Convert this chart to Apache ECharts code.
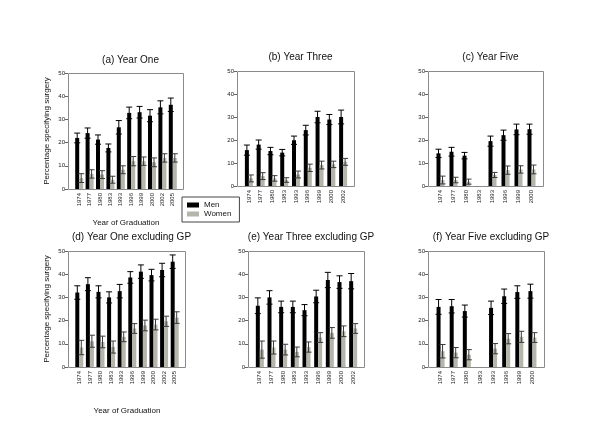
<!DOCTYPE html>
<html>
<head>
<meta charset="utf-8">
<script src="https://cdn.jsdelivr.net/npm/echarts@6/dist/echarts.min.js"></script>
<style>
  html, body { margin: 0; padding: 0; background: #fff; }
  #chart { width: 600px; height: 425px; }
</style>
</head>
<body>
<div id="chart"></div>
<script>
// categories
const yearsA = ['1974', '1977', '1980', '1983', '1993', '1996', '1999', '2000', '2002', '2005'];
const yearsB = ['1974', '1977', '1980', '1983', '1993', '1996', '1999', '2000', '2002'];
const yearsC = ['1974', '1977', '1980', '1983', '1993', '1996', '1999', '2000'];
const yTicks = [0, 10, 20, 30, 40, 50];

// (a) Year One
const aMen = [22.0, 24.1, 21.3, 17.7, 26.6, 32.8, 33.1, 31.6, 35.2, 36.3];
const aMenErr = [2.1, 2.2, 2.0, 1.7, 2.9, 2.5, 2.5, 2.6, 2.8, 2.9];
const aWomen = [4.7, 6.5, 6.2, 4.0, 8.3, 12.0, 12.0, 11.5, 13.4, 13.4];
const aWomenErr = [1.9, 1.8, 1.7, 1.5, 1.7, 2.0, 1.8, 1.9, 1.8, 1.8];
// (b) Year Three
const bMen = [15.6, 18.0, 15.2, 14.5, 19.9, 24.3, 30.0, 28.9, 30.0];
const bMenErr = [2.2, 2.0, 1.6, 1.4, 1.8, 2.1, 2.5, 2.2, 3.0];
const bWomen = [3.3, 4.3, 3.3, 2.6, 5.0, 7.9, 9.1, 9.4, 10.5];
const bWomenErr = [1.5, 1.5, 1.2, 1.0, 1.5, 1.6, 1.7, 1.4, 1.5];
// (c) Year Five
const cMen = [14.2, 14.9, 13.2, null, 19.5, 22.1, 24.6, 24.7];
const cMenErr = [1.8, 1.9, 1.4, null, 2.2, 2.2, 2.3, 2.2];
const cWomen = [2.6, 2.6, 1.9, null, 4.8, 6.9, 7.2, 7.2];
const cWomenErr = [1.7, 1.2, 1.1, null, 1.1, 1.8, 1.6, 1.9];
// (d) Year One excluding GP
const dMen = [32.1, 35.7, 32.4, 30.0, 32.7, 38.6, 41.1, 39.6, 41.8, 45.4];
const dMenErr = [2.9, 2.8, 2.6, 2.4, 2.9, 2.5, 2.9, 2.5, 2.9, 2.9];
const dWomen = [8.4, 11.1, 10.8, 8.6, 13.0, 16.6, 17.9, 18.3, 19.7, 21.3];
const dWomenErr = [3.1, 2.6, 2.5, 2.6, 2.1, 2.1, 2.3, 2.3, 2.2, 2.5];
// (e) Year Three excluding GP
const eMen = [26.4, 30.0, 25.9, 25.9, 24.5, 30.4, 37.5, 36.6, 37.0];
const eMenErr = [3.4, 2.9, 2.5, 2.5, 2.4, 2.7, 3.3, 2.7, 3.3];
const eWomen = [7.5, 8.4, 7.5, 6.5, 8.6, 12.7, 14.7, 15.4, 16.6];
const eWomenErr = [3.7, 2.8, 2.3, 2.1, 2.2, 2.1, 2.3, 2.3, 2.1];
// (f) Year Five excluding GP
const fMen = [25.9, 26.2, 24.1, null, 25.5, 30.5, 32.3, 32.7];
const fMenErr = [3.2, 2.9, 2.6, null, 2.9, 3.1, 2.7, 3.0];
const fWomen = [6.8, 6.2, 5.3, null, 7.9, 12.2, 13.0, 12.7];
const fWomenErr = [2.9, 2.2, 2.2, null, 2.2, 2.2, 2.4, 2.1];

const panels = [
    { title: '(a) Year One', cats: yearsA, men: aMen, menErr: aMenErr, women: aWomen, womenErr: aWomenErr,
      x: 68, y: 73, w: 115, h: 116, titleTop: 50, names: true, xNameGap: 30 },
    { title: '(b) Year Three', cats: yearsB, men: bMen, menErr: bMenErr, women: bWomen, womenErr: bWomenErr,
      x: 237, y: 71, w: 117, h: 115, titleTop: 47 },
    { title: '(c) Year Five', cats: yearsC, men: cMen, menErr: cMenErr, women: cWomen, womenErr: cWomenErr,
      x: 428, y: 71, w: 115, h: 115, titleTop: 47 },
    { title: '(d) Year One excluding GP', cats: yearsA, men: dMen, menErr: dMenErr, women: dWomen, womenErr: dWomenErr,
      x: 68, y: 251, w: 117, h: 116, titleTop: 227, names: true, xNameGap: 40 },
    { title: '(e) Year Three excluding GP', cats: yearsB, men: eMen, menErr: eMenErr, women: eWomen, womenErr: eWomenErr,
      x: 248, y: 251, w: 116, h: 116, titleTop: 227 },
    { title: '(f) Year Five excluding GP', cats: yearsC, men: fMen, menErr: fMenErr, women: fWomen, womenErr: fWomenErr,
      x: 428, y: 251, w: 116, h: 116, titleTop: 227 }
];

const FONT = 'Liberation Sans, Arial, sans-serif';
const WOMEN_COLOR = '#b5b5ab';
const PAD_L = 6, PAD_R = 5;
const BAR_W = 4;

function errorSeries(idx, values, errs, dx, color) {
    return {
        type: 'custom',
        xAxisIndex: idx,
        yAxisIndex: idx,
        z: 5,
        silent: true,
        data: values.map((v, i) => [i, v, errs[i]]),
        renderItem(params, api) {
            const v = api.value(1), e = api.value(2);
            if (isNaN(v) || isNaN(e)) return null;
            const top = api.coord([api.value(0), v + e]);
            const bot = api.coord([api.value(0), v - e]);
            const x = top[0] + dx;
            const st = { stroke: color, lineWidth: 1 };
            return {
                type: 'group',
                children: [
                    { type: 'line', shape: { x1: x, y1: top[1], x2: x, y2: bot[1] }, style: st },
                    { type: 'line', shape: { x1: x - 3, y1: top[1], x2: x + 3, y2: top[1] }, style: st },
                    { type: 'line', shape: { x1: x - 3, y1: bot[1], x2: x + 3, y2: bot[1] }, style: st }
                ]
            };
        }
    };
}

const grid = [], xAxis = [], yAxis = [], series = [], title = [], graphic = [];

panels.forEach((p, i) => {
    grid.push({ left: p.x + PAD_L, top: p.y, width: p.w - PAD_L - PAD_R, height: p.h });
    title.push({
        text: p.title, left: p.x + p.w / 2, top: p.titleTop, textAlign: 'center',
        textStyle: { fontFamily: FONT, fontSize: 10, fontWeight: 'normal', color: '#111' }
    });
    graphic.push({
        type: 'rect', silent: true, z: 1,
        shape: { x: p.x + 0.5, y: p.y + 0.5, width: p.w, height: p.h },
        style: { fill: null, stroke: '#8a8a8a', lineWidth: 1 }
    });
    xAxis.push({
        type: 'category', gridIndex: i, data: p.cats,
        axisLine: { show: false },
        axisTick: { show: false },
        axisLabel: { rotate: 90, fontSize: 6, fontFamily: FONT, color: '#222', margin: 4, interval: 0 },
        name: p.names ? 'Year of Graduation' : '',
        nameLocation: 'middle', nameGap: p.xNameGap || 30,
        nameTextStyle: { fontFamily: FONT, fontSize: 8, color: '#111' }
    });
    yAxis.push({
        type: 'value', gridIndex: i, min: 0, max: 50, interval: 10, offset: PAD_L,
        axisLine: { show: false },
        axisTick: { show: true, length: 3, lineStyle: { color: '#666' } },
        axisLabel: { fontSize: 6, fontFamily: FONT, color: '#222', margin: 3,
            customValues: yTicks },
        splitLine: { show: false },
        name: p.names ? 'Percentage specifying surgery' : '',
        nameLocation: 'middle', nameGap: 17,
        nameTextStyle: { fontFamily: FONT, fontSize: 8, color: '#111' }
    });
    series.push({
        name: 'Men', type: 'bar', xAxisIndex: i, yAxisIndex: i, data: p.men,
        barWidth: BAR_W, barGap: '0%', itemStyle: { color: '#000' }, z: 3, silent: true
    });
    series.push({
        name: 'Women', type: 'bar', xAxisIndex: i, yAxisIndex: i, data: p.women,
        barWidth: BAR_W, barGap: '0%', itemStyle: { color: WOMEN_COLOR }, z: 3, silent: true
    });
    series.push(errorSeries(i, p.men, p.menErr, -BAR_W / 2, '#000'));
    series.push(errorSeries(i, p.women, p.womenErr, BAR_W / 2, '#3a3a3a'));
});

const chart = echarts.init(document.getElementById('chart'));
chart.setOption({
    backgroundColor: '#fff',
    animation: false,
    title,
    grid,
    xAxis,
    yAxis,
    series,
    graphic,
    legend: {
        data: ['Men', 'Women'],
        orient: 'vertical', left: 182, top: 197,
        itemWidth: 12, itemHeight: 5, itemGap: 1, icon: 'rect',
        padding: [4, 8, 4, 5],
        borderColor: '#444', borderWidth: 1,
        textStyle: { fontFamily: FONT, fontSize: 8, color: '#111' }
    }
});
</script>
</body>
</html>
